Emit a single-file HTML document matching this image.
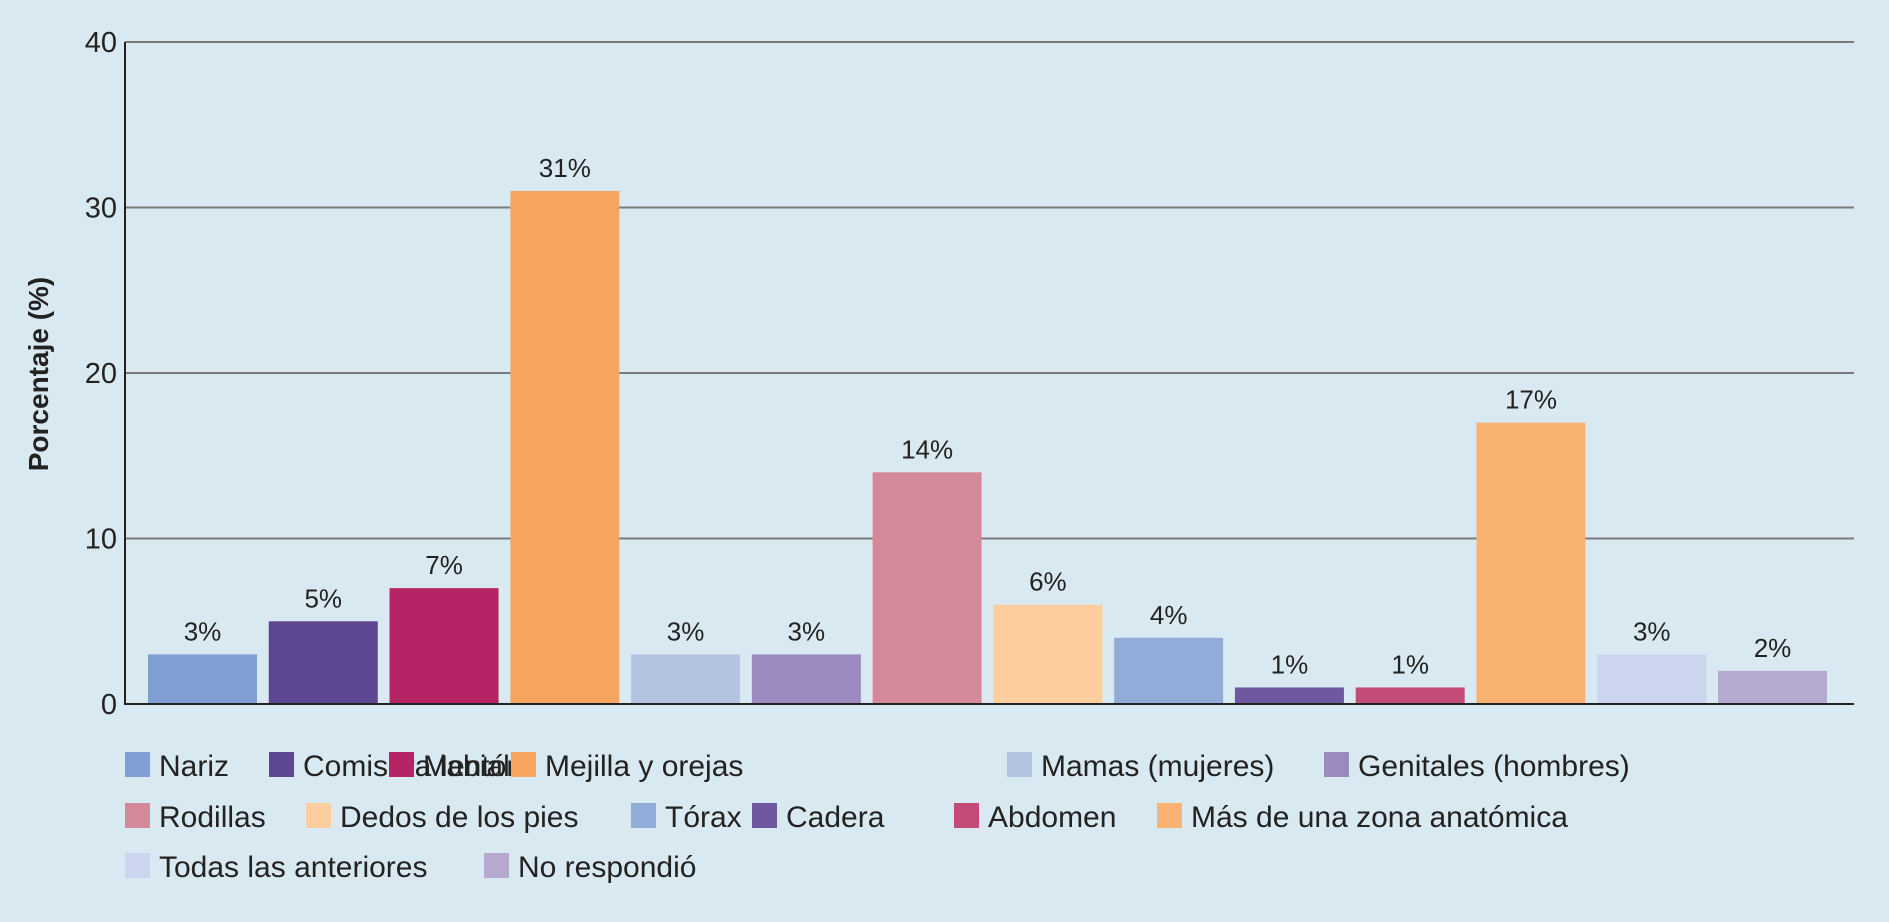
<!DOCTYPE html>
<html><head><meta charset="utf-8"><style>
body{margin:0;background:#d9e9f2;}
svg{display:block;font-family:"Liberation Sans",sans-serif;}
</style></head><body>
<svg id="chart" width="1889" height="922" viewBox="0 0 1889 922">
<rect width="1889" height="922" fill="#d9e9f2"/>
<g id="grid"></g><g id="bars"></g><g id="legend"></g>
<text transform="translate(48,374) rotate(-90)" text-anchor="middle" font-size="28" font-weight="bold" fill="#222">Porcentaje (%)</text>
</svg>
<script>
const categories=["Nariz","Comisura labial","Mentón","Mejilla y orejas","Mamas (mujeres)","Genitales (hombres)","Rodillas","Dedos de los pies","Tórax","Cadera","Abdomen","Más de una zona anatómica","Todas las anteriores","No respondió"];
const values=[3,5,7,31,3,3,14,6,4,1,1,17,3,2];
const valueLabels=["3%","5%","7%","31%","3%","3%","14%","6%","4%","1%","1%","17%","3%","2%"];
const yTicks=[0,10,20,30,40];
const colors=["#7f9fd3","#5e4791","#b72466","#f7a55e","#b3c4e3","#9a8abf","#d4899a","#fdcd9e","#91acd9","#6f58a0","#c44b77","#f9b272","#cbd6ee","#b5a9d0"];
const NS="http://www.w3.org/2000/svg";
const x0=125,x1=1854,yTop=42,yBot=704,yMax=40;
const y=v=>yBot-(v/yMax)*(yBot-yTop);
const step=120.77,bw=109,bx0=148;
const xb=i=>bx0+i*step;
function mk(t,a,p){const e=document.createElementNS(NS,t);for(const k in a)e.setAttribute(k,a[k]);p.appendChild(e);return e;}
const grid=document.getElementById('grid');
yTicks.forEach(t=>{
  if(t>0){const l=mk('line',{x1:x0,x2:x1,y1:y(t),y2:y(t),stroke:'#7a7a7a','stroke-width':2},grid);
  
  }
  const tx=mk('text',{x:x0-8,y:y(t)+10,'text-anchor':'end','font-size':29,fill:'#222'},grid);
  tx.textContent=t;
  
  
});
const ax=mk('line',{x1:x0,x2:x0,y1:yTop,y2:yBot+1,stroke:'#222','stroke-width':2},grid);


const bars=document.getElementById('bars');
values.forEach((v,i)=>{
  const r=mk('rect',{x:xb(i),y:y(v),width:bw,height:yBot-y(v),fill:colors[i]},bars);
  
  
  const t=mk('text',{x:xb(i)+bw/2,y:y(v)-14,'text-anchor':'middle','font-size':26,fill:'#222'},bars);
  t.textContent=valueLabels[i];
  
  
});
const xa=mk('line',{x1:x0,x2:x1,y1:yBot,y2:yBot,stroke:'#222','stroke-width':2},bars);


const legPos=[[125,765],[269,765],[389,765],[511,765],[1007,765],[1324,765],[125,816],[306,816],[631,816],[752,816],[954,816],[1157,816],[125,866],[484,866]];
const leg=document.getElementById('legend');
categories.forEach((c,i)=>{
  const [lx,ly]=legPos[i];
  const g=mk('g',{},leg);
  
  
  mk('rect',{x:lx,y:ly-13,width:25,height:25,fill:colors[i]},g);
  const t=mk('text',{x:lx+34,y:ly+11,'font-size':30,fill:'#222'},g);
  t.textContent=c;
});
</script>
</body></html>
